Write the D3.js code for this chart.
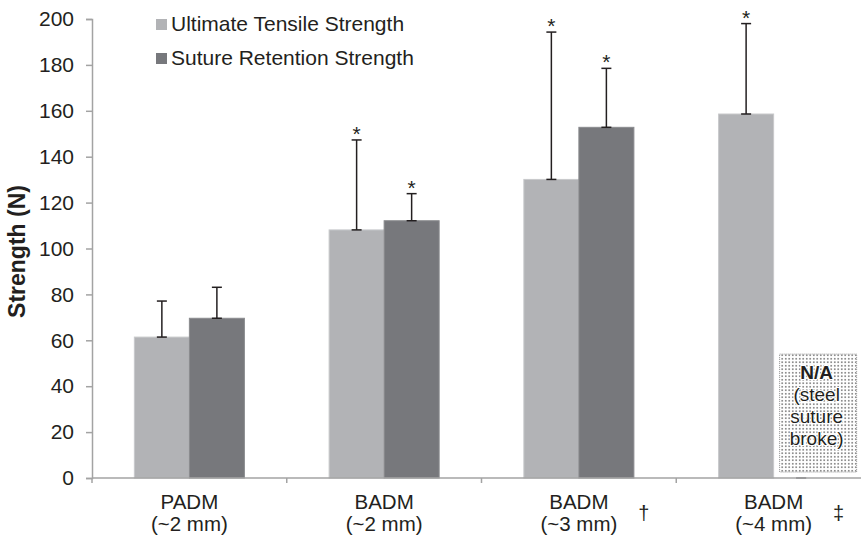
<!DOCTYPE html>
<html>
<head>
<meta charset="utf-8">
<script src="https://cdn.jsdelivr.net/npm/d3@7"></script>
<style>
  body { margin: 0; background: #fff; }
  svg { display: block; font-family: "Liberation Sans", Arial, sans-serif; }
</style>
</head>
<body>
<div id="chart"></div>
<script>
// Groups along the x axis
const groupNames = ["PADM", "BADM", "BADM", "BADM"];
const groupSizes = ["(~2 mm)", "(~2 mm)", "(~3 mm)", "(~4 mm)"];
const groupMarks = ["", "", "\u2020", "\u2021"]; // dagger, double dagger

const seriesNames = ["Ultimate Tensile Strength", "Suture Retention Strength"];

// Ultimate tensile strength (N) and upper error
const utsValues = [61.4, 108.1, 130.1, 158.6];
const utsErrors = [15.7, 39.2, 64.2, 39.4];
const utsStars = [false, true, true, true];

// Suture retention strength (N); last group not available
const srsValues = [69.6, 112.1, 152.8, 0];
const srsErrors = [13.5, 11.8, 25.7, 0];
const srsStars = [false, true, true, false];

const yTicks = [0, 20, 40, 60, 80, 100, 120, 140, 160, 180, 200];
const naLines = ["N/A", "(steel", "suture", "broke)"];

const width = 861, height = 540;
const margin = { top: 19, right: -10, bottom: 62, left: 92 };
const colors = ["#b2b3b6", "#77787c"];
const textColor = "#231f20";

const svg = d3.select("#chart").append("svg")
    .attr("width", width)
    .attr("height", height);

// dotted fill for the N/A box
const defs = svg.append("defs");
const pat = defs.append("pattern")
    .attr("id", "dots")
    .attr("width", 3.5).attr("height", 3.5)
    .attr("patternUnits", "userSpaceOnUse");
pat.append("rect").attr("width", 3.5).attr("height", 3.5).attr("fill", "#fff");
pat.append("circle").attr("cx", 1.75).attr("cy", 1.75).attr("r", 0.85).attr("fill", "#666");

const x0 = d3.scaleBand()
    .domain(d3.range(groupNames.length))
    .range([margin.left, width - margin.right])
    .paddingInner(0.435)
    .paddingOuter(0.2175);

const x1 = d3.scaleBand()
    .domain([0, 1])
    .range([0, x0.bandwidth()]);

const y = d3.scaleLinear()
    .domain([0, 200])
    .range([height - margin.bottom, margin.top]);

const rows = groupNames.map((g, i) => [
    { s: 0, v: utsValues[i], e: utsErrors[i], star: utsStars[i], i },
    { s: 1, v: srsValues[i], e: srsErrors[i], star: srsStars[i], i }
]);

// y axis
const yAxis = svg.append("g")
    .attr("transform", `translate(${margin.left},0)`)
    .call(d3.axisLeft(y).tickValues(yTicks).tickSize(6).tickPadding(12));
yAxis.select(".domain").attr("stroke", "#a3a3a3").attr("stroke-width", 1.5);
yAxis.selectAll(".tick line").attr("stroke", "#a3a3a3").attr("stroke-width", 1.5);
yAxis.selectAll(".tick text").attr("font-size", 21).attr("fill", textColor)
    .attr("font-family", "Liberation Sans, Arial, sans-serif");

// bars
const groups = svg.append("g").selectAll("g")
    .data(rows)
    .join("g")
    .attr("transform", (d, i) => `translate(${x0(i)},0)`);

groups.selectAll("rect")
    .data(d => d.filter(b => b.v > 0))
    .join("rect")
    .attr("x", d => x1(d.s))
    .attr("width", x1.bandwidth())
    .attr("y", d => y(d.v))
    .attr("height", d => y(0) - y(d.v))
    .attr("fill", d => colors[d.s])
    .attr("stroke", d => d.s === 0 ? "#c8c9cb" : "#8a8b8e")
    .attr("stroke-width", 1);

// x axis
const xAxisG = svg.append("g");
xAxisG.append("line")
    .attr("x1", margin.left).attr("x2", width)
    .attr("y1", y(0)).attr("y2", y(0))
    .attr("stroke", "#a3a3a3").attr("stroke-width", 1.5);
xAxisG.selectAll(".xt")
    .data(d3.range(groupNames.length))
    .join("line")
    .attr("class", "xt")
    .attr("x1", i => x0(i) - x0.step() * x0.paddingInner() / 2)
    .attr("x2", i => x0(i) - x0.step() * x0.paddingInner() / 2)
    .attr("y1", y(0)).attr("y2", y(0) + 5)
    .attr("stroke", "#a3a3a3").attr("stroke-width", 1.5);

// error bars
const capW = 5;
const err = groups.selectAll("g.err")
    .data(d => d)
    .join("g")
    .attr("class", "err")
    .attr("stroke", d => d.v > 0 ? textColor : "#77787c")
    .attr("stroke-width", 1.5);
err.append("line")
    .attr("x1", d => x1(d.s) + x1.bandwidth() / 2)
    .attr("x2", d => x1(d.s) + x1.bandwidth() / 2)
    .attr("y1", d => y(d.v)).attr("y2", d => y(d.v + d.e));
err.append("line")
    .attr("x1", d => x1(d.s) + x1.bandwidth() / 2 - capW)
    .attr("x2", d => x1(d.s) + x1.bandwidth() / 2 + capW)
    .attr("y1", d => y(d.v + d.e)).attr("y2", d => y(d.v + d.e));
err.append("line")
    .attr("x1", d => x1(d.s) + x1.bandwidth() / 2 - capW)
    .attr("x2", d => x1(d.s) + x1.bandwidth() / 2 + capW)
    .attr("y1", d => y(d.v)).attr("y2", d => y(d.v));

// significance stars
groups.selectAll("text.star")
    .data(d => d.filter(b => b.star))
    .join("text")
    .attr("class", "star")
    .attr("x", d => x1(d.s) + x1.bandwidth() / 2)
    .attr("y", d => y(d.v + d.e) + 1)
    .attr("text-anchor", "middle")
    .attr("font-size", 21)
    .attr("fill", textColor)
    .text("*");

// N/A box for the missing suture retention bar
const last = groupNames.length - 1;
const naX = x0(last) + x1(1) + 6;
const naBox = svg.append("g");
naBox.append("rect")
    .attr("x", naX)
    .attr("y", y(54))
    .attr("width", 77)
    .attr("height", y(2.6) - y(54))
    .attr("fill", "url(#dots)")
    .attr("stroke", "#9a9a9a")
    .attr("stroke-dasharray", "1,1");
naBox.selectAll("text")
    .data(naLines)
    .join("text")
    .attr("x", naX + 37)
    .attr("y", (d, i) => y(54) + 25 + i * 22)
    .attr("text-anchor", "middle")
    .attr("font-size", 19)
    .attr("font-weight", (d, i) => i === 0 ? "bold" : "normal")
    .attr("fill", textColor)
    .attr("stroke", "#fff")
    .attr("stroke-width", 2)
    .attr("paint-order", "stroke")
    .text(d => d);

// category labels
const labels = svg.append("g").selectAll("g")
    .data(d3.range(groupNames.length))
    .join("g")
    .attr("transform", i => `translate(${x0(i) + x0.bandwidth() / 2},0)`)
    .attr("font-size", 20.5)
    .attr("fill", textColor);
labels.append("text")
    .attr("y", y(0) + 31)
    .attr("text-anchor", "middle")
    .text(i => groupNames[i]);
labels.append("text")
    .attr("y", y(0) + 53)
    .attr("text-anchor", "middle")
    .text(i => groupSizes[i]);
labels.append("text")
    .attr("x", 65)
    .attr("y", y(0) + 42)
    .attr("text-anchor", "middle")
    .attr("font-size", 20)
    .text(i => groupMarks[i]);

// y axis title
svg.append("text")
    .attr("transform", `translate(25,${(y(0) + y(200)) / 2 + 3}) rotate(-90)`)
    .attr("text-anchor", "middle")
    .attr("font-size", 23)
    .attr("font-weight", "bold")
    .attr("fill", textColor)
    .text("Strength (N)");

// legend
const legend = svg.append("g").selectAll("g")
    .data(seriesNames)
    .join("g")
    .attr("transform", (d, i) => `translate(156,${19 + i * 34})`);
legend.append("rect")
    .attr("width", 11).attr("height", 11)
    .attr("fill", (d, i) => colors[i]);
legend.append("text")
    .attr("x", 15).attr("y", 12)
    .attr("font-size", 21)
    .attr("fill", textColor)
    .text(d => d);
</script>
</body>
</html>
